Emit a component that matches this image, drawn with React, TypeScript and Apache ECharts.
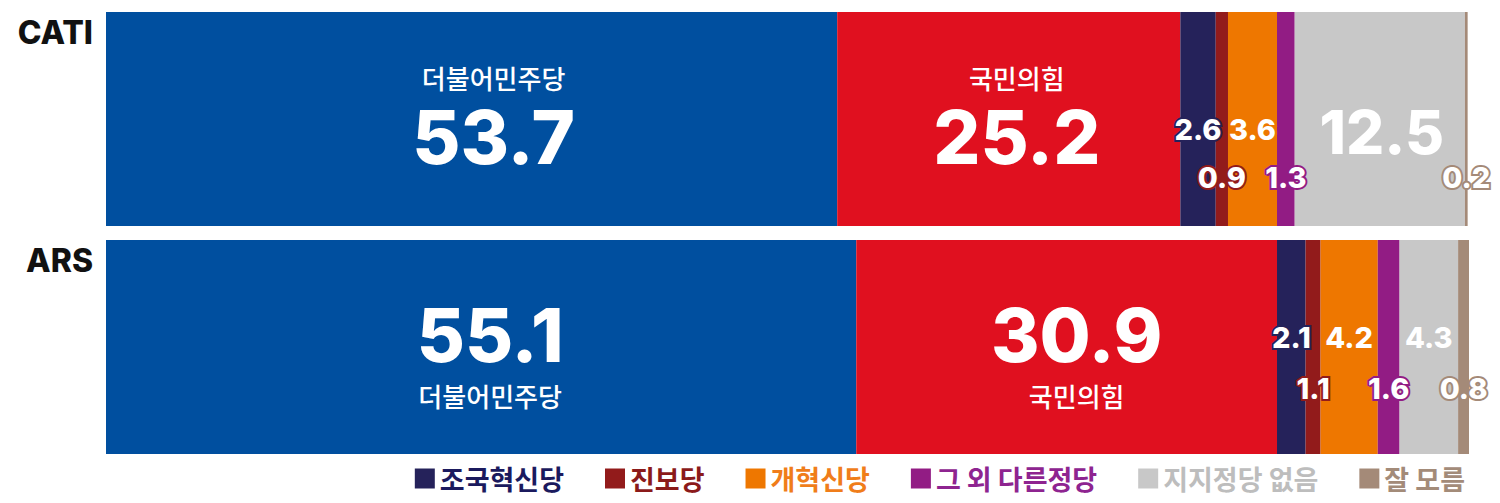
import React, { useEffect, useRef } from 'react';
import * as echarts from 'echarts';

const categories = ['CATI', 'ARS'];
const parties = ['더불어민주당', '국민의힘', '조국혁신당', '진보당', '개혁신당', '그 외 다른정당', '지지정당 없음', '잘 모름'];
const catiValues = [53.7, 25.2, 2.6, 0.9, 3.6, 1.3, 12.5, 0.2];
const arsValues = [55.1, 30.9, 2.1, 1.1, 4.2, 1.6, 4.3, 0.8];
const legendParties = parties.slice(2);

const barColors = ['#004f9f', '#e0101f', '#25225a', '#921b1b', '#ee7700', '#921c84', '#c8c8c8', '#a48a78'];
const legendColors = ['#1b1a5e', '#8b1a1a', '#f07d1a', '#8e2490', '#bdbdbd', '#a38b79'];

// how each segment's label is drawn, per row
const catiLabelKinds = ['nameTop', 'nameTop', 'up', 'down', 'up', 'down', 'big', 'down'];
const arsLabelKinds = ['nameBottom', 'nameBottom', 'up', 'down', 'up', 'down', 'up', 'down'];
const rowOffsets: Record<string, { up: number; down: number }> = {
    CATI: { up: 10, down: 58 },
    ARS: { up: -10, down: 41 },
};
// the two big parties' labels sit a little right of centre
const catiShiftX = [22, 8];
const arsShiftX = [9, 10];

const numFont = 'Inter, "Noto Sans CJK KR", sans-serif';
const krFont = '"Noto Sans CJK KR", sans-serif';

const makeLabel = (cat: string, idx: number, value: number) => {
    const kind = cat === 'CATI' ? catiLabelKinds[idx] : arsLabelKinds[idx];
    const color = barColors[idx];
    const rich = {
        n: { fontFamily: krFont, fontSize: 26, fontWeight: 500, color: '#fff', lineHeight: 40 },
        v: { fontFamily: numFont, fontSize: 74, fontWeight: 800, color: '#fff', lineHeight: 80 },
    };
    if (kind === 'nameTop') {
        return { show: true, position: 'inside', formatter: `{n|${parties[idx]}}\n{v|${value}}`, rich, offset: [catiShiftX[idx], -2] };
    }
    if (kind === 'nameBottom') {
        return { show: true, position: 'inside', formatter: `{v|${value}}\n{n|${parties[idx]}}`, rich, offset: [arsShiftX[idx], 8] };
    }
    if (kind === 'big') {
        return {
            show: true, position: 'inside', formatter: `${value}`, color: '#fff',
            fontFamily: numFont, fontSize: 60, fontWeight: 800, offset: [2, 13],
        };
    }
    return {
        show: true, position: 'inside', formatter: `${value}`, color: '#fff',
        fontFamily: numFont, fontSize: 29, fontWeight: 800,
        textBorderColor: color, textBorderWidth: 4,
        offset: [0, rowOffsets[cat][kind as 'up' | 'down']],
    };
};

const App: React.FC = () => {
    const chartRef = useRef<HTMLDivElement>(null);

    useEffect(() => {
        document.body.style.margin = '0';
        if (!chartRef.current) return;
        const chart = echarts.init(chartRef.current, undefined, { renderer: 'svg' });

        const series = parties.map((name, idx) => ({
            name,
            type: 'bar',
            stack: 'total',
            barWidth: 214,
            itemStyle: { color: barColors[idx] },
            data: [
                { value: catiValues[idx], label: makeLabel('CATI', idx, catiValues[idx]) },
                { value: arsValues[idx], label: makeLabel('ARS', idx, arsValues[idx]) },
            ],
        }));

        const option: any = {
            animation: false,
            grid: { left: 106, right: 31, top: 5, bottom: 42, outerBoundsMode: 'none', containLabel: false },
            xAxis: { type: 'value', min: 0, max: 100.1, show: false },
            yAxis: {
                type: 'category',
                data: categories,
                inverse: true,
                axisLine: { show: false },
                axisTick: { show: false },
                axisLabel: {
                    color: '#111',
                    fontFamily: numFont,
                    fontSize: 32,
                    fontWeight: 800,
                    margin: 13,
                    verticalAlign: 'bottom',
                    lineHeight: 174,
                },
            },
            legend: {
                data: legendParties.map((name, i) => ({
                    name,
                    itemStyle: { color: barColors[i + 2] },
                    textStyle: { color: legendColors[i] },
                })),
                right: 30,
                bottom: 6,
                icon: 'rect',
                itemWidth: 20,
                itemHeight: 20,
                itemGap: 41,
                selectedMode: false,
                textStyle: { fontFamily: krFont, fontSize: 27, fontWeight: 700 },
            },
            series,
        };

        chart.setOption(option);
        return () => chart.dispose();
    }, []);

    return <div ref={chartRef} style={{ width: '100vw', height: '100vh' }} />;
};

export default App;
